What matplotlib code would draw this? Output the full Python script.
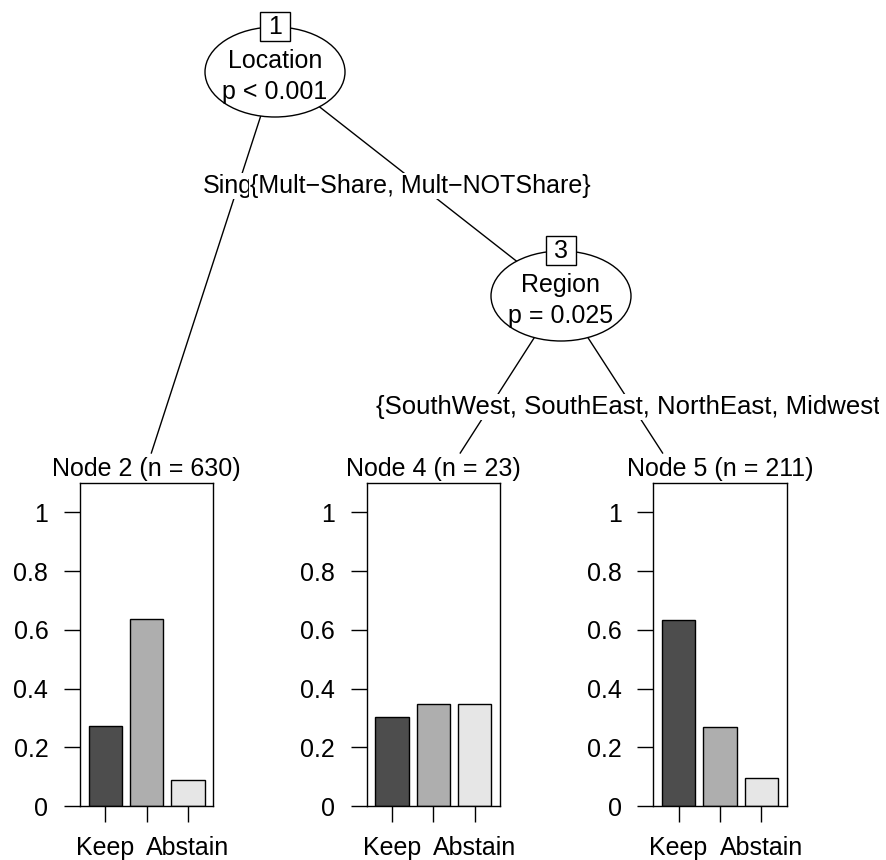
import matplotlib
matplotlib.use("Agg")
from matplotlib import pyplot as plt
from matplotlib.patches import Ellipse, Rectangle
from matplotlib.transforms import Bbox, TransformedBbox

plt.rcParams['font.family'] = ['Liberation Sans', 'DejaVu Sans']
plt.rcParams['font.size'] = 18

# data
categories = ["Keep", "", "Abstain"]
node2_props = [0.273, 0.637, 0.090]
node4_props = [0.304, 0.348, 0.348]
node5_props = [0.635, 0.270, 0.095]
terminal_ids = [2, 4, 5]
terminal_n = [630, 23, 211]
inner_ids = [1, 3]
inner_vars = ["Location", "Region"]
inner_pvals = ["p < 0.001", "p = 0.025"]
edge_labels_1 = ["Single", "{Mult\u2212Share, Mult\u2212NOTShare}"]
edge_labels_3 = ["{SouthWest, SouthEast, NorthEast, Midwest}"]
bar_colors = ["#4d4d4d", "#aeaeae", "#e6e6e6"]

W, H = 886, 860
fig = plt.figure(figsize=(W / 100, H / 100), dpi=100)

# tree layer in pixel coordinates (y downwards)
tree = fig.add_axes([0, 0, 1, 1])
tree.set_xlim(0, W)
tree.set_ylim(H, 0)
tree.axis('off')

inner_pos = [(275, 72), (561, 296)]
panel_left = [80, 366.7, 653.3]
panel_w, panel_top, panel_bottom = 133.3, 483, 806
child_top = [(141.6, 483), (441, 483), (682, 483)]

def point_at_y(p0, p1, y):
   t = (y - p0[1]) / (p1[1] - p0[1])
   return p0[0] + t * (p1[0] - p0[0])

# edges (terminal edges stop where the node title starts)
edges = [(inner_pos[0], child_top[0]), (inner_pos[0], inner_pos[1]),
         (inner_pos[1], child_top[1]), (inner_pos[1], child_top[2])]
for i, (p0, p1) in enumerate(edges):
   if i == 1:
      x1, y1e = p1
   else:
      y1e = 453
      x1 = point_at_y(p0, p1, y1e)
   tree.plot([p0[0], x1], [p0[1], y1e], color='black', lw=1.0, zorder=1)

lab_box = dict(boxstyle='square,pad=0.05', fc='white', ec='none')
# labels of node 1 (right one drawn over the left one)
y1 = 186
for (p0, p1), lab in zip(edges[:2], edge_labels_1):
   tree.text(point_at_y(p0, p1, y1), y1, lab, ha='center', va='center',
             bbox=lab_box, zorder=3)
# label of node 3 (right branch), clipped at the plot edge
y3 = 407
x3 = point_at_y(edges[3][0], edges[3][1], y3)
t = tree.text(x3, y3, edge_labels_3[0], ha='center', va='center', fontsize=18.5,
              bbox=lab_box, zorder=3, clip_on=True)
t.set_clip_box(TransformedBbox(Bbox.from_extents(0, 0, 879, H), tree.transData))

# inner nodes
for (cx, cy), nid, var, pv in zip(inner_pos, inner_ids, inner_vars, inner_pvals):
   tree.add_patch(Ellipse((cx, cy), 140, 90, fc='white', ec='black', lw=1.0, zorder=4))
   top = cy - 45
   tree.add_patch(Rectangle((cx - 15, top - 15), 30, 29, fc='white', ec='black',
                            lw=1.0, zorder=5))
   tree.text(cx, top - 0.5, str(nid), ha='center', va='center', zorder=6)
   tree.text(cx, cy - 4, var, ha='center', va='baseline', zorder=6)
   tree.text(cx, cy + 27, pv, ha='center', va='baseline', zorder=6)

# terminal node titles
for left, nid, n in zip(panel_left, terminal_ids, terminal_n):
   tree.text(left + panel_w / 2, 469, "Node %d (n = %d)" % (nid, n), ha='center',
             va='center', bbox=lab_box, zorder=3)

# terminal bar panels
xs = [1, 2, 3]
for left, props in zip(panel_left, [node2_props, node4_props, node5_props]):
   ax = fig.add_axes([left / W, (H - panel_bottom) / H, panel_w / W,
                      (panel_bottom - panel_top) / H])
   ax.bar(xs, props, width=0.8, color=bar_colors, edgecolor='black', linewidth=1.0)
   ax.set_xlim(0.39, 3.61)
   ax.set_ylim(0, 1.1)
   ax.set_yticks([0, 0.2, 0.4, 0.6, 0.8, 1])
   ax.set_yticklabels(['0', '0.2', '0.4', '0.6', '0.8', '1'])
   ax.set_xticks(xs)
   ax.set_xticklabels(categories)
   ax.tick_params(axis='both', direction='out', length=11.3, width=1.0, labelsize=18)
   ax.tick_params(axis='y', pad=11.5)
   ax.tick_params(axis='x', pad=10)
   for s in ax.spines.values():
      s.set_linewidth(1.0)

fig.savefig('out.png', dpi=100)
